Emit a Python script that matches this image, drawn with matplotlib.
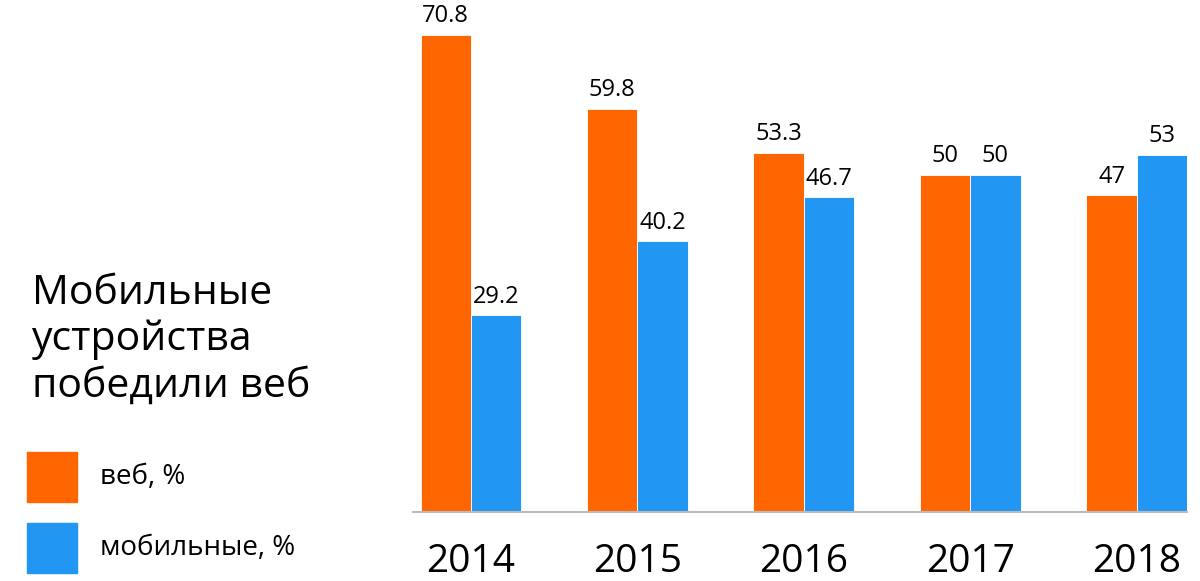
import numpy as np
import matplotlib
matplotlib.use('Agg')
import matplotlib.pyplot as plt
from matplotlib.patches import Rectangle

years = ['2014', '2015', '2016', '2017', '2018']
web = [70.8, 59.8, 53.3, 50, 47]
mobile = [29.2, 40.2, 46.7, 50, 53]
web_labels = ['70.8', '59.8', '53.3', '50', '47']
mobile_labels = ['29.2', '40.2', '46.7', '50', '53']

title = 'Мобильные\nустройства\nпобедили веб'
legend_names = ['веб, %', 'мобильные, %']
c_web = '#ff6600'
c_mob = '#2196f3'

plt.rcParams['font.family'] = ['Open Sans', 'Noto Sans', 'DejaVu Sans']

fig = plt.figure(figsize=(12, 5.81), dpi=100)
W, H = 1200, 581

# axes: baseline at y=512px, 6.74 px per unit
ax = fig.add_axes([413 / W, (H - 512) / H, (1187 - 413) / W, 505.5 / H])
x = np.arange(len(years))
w = 0.302
ax.bar(x - w / 2, web, w, color=c_web, edgecolor='white', linewidth=0.6)
ax.bar(x + w / 2, mobile, w, color=c_mob, edgecolor='white', linewidth=0.6)

for i in range(len(years)):
    ax.annotate(web_labels[i], (x[i] - w / 2, web[i]), xytext=(0, 9),
                textcoords='offset points', ha='center', va='baseline', fontsize=17)
    ax.annotate(mobile_labels[i], (x[i] + w / 2, mobile[i]), xytext=(0, 9),
                textcoords='offset points', ha='center', va='baseline', fontsize=17)

ax.set_xlim(-w * 1.15, 4 + w)
ax.set_ylim(0, 75)
for s in ['top', 'right', 'left']:
    ax.spines[s].set_visible(False)
ax.spines['bottom'].set_color('#bbbbbb')
ax.spines['bottom'].set_linewidth(1.5)
ax.set_yticks([])
ax.set_xticks(x)
ax.set_xticklabels(years, fontsize=28)
ax.tick_params(axis='x', length=0, pad=22)

# title and legend on the left
fig.text(32 / W, 1 - 397 / H, title, fontsize=29.5, ha='left', va='baseline',
         linespacing=1.2, transform=fig.transFigure)
for j, (name, col) in enumerate(zip(legend_names, [c_web, c_mob])):
    top = 452 + j * 71
    fig.patches.append(Rectangle((27 / W, 1 - (top + 50) / H), 50 / W, 50 / H,
                                 transform=fig.transFigure, color=col))
    fig.text(100 / W, 1 - (top + 25) / H, name, fontsize=20, ha='left', va='center')

fig.savefig('out.png', dpi=100)
